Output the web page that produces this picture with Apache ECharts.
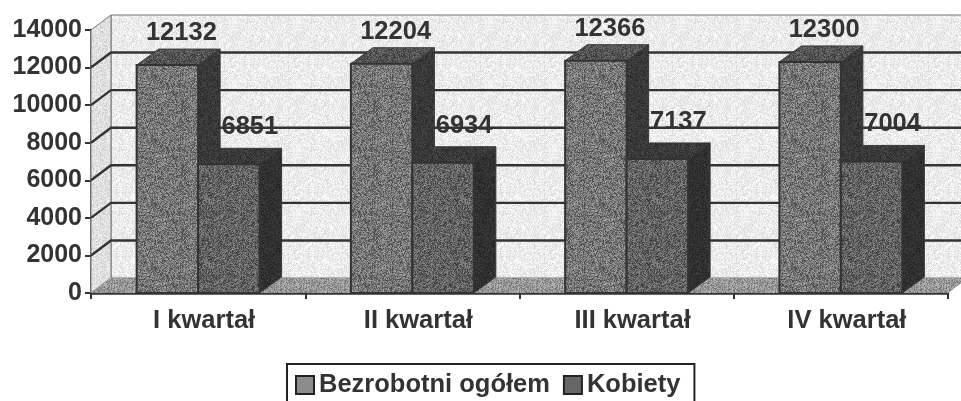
<!DOCTYPE html>
<html><head><meta charset="utf-8">
<style>html,body{margin:0;padding:0;background:#fff}#c{width:961px;height:401px;filter:blur(0.6px)}</style>
<script src="https://cdn.jsdelivr.net/npm/echarts@6/dist/echarts.min.js"></script>
</head><body><div id="c"></div>
<script>
const categories = ['I kwartał','II kwartał','III kwartał','IV kwartał'];
const bezrobotni = [12132,12204,12366,12300];
const kobiety = [6851,6934,7137,7004];
const yTicks = [0,2000,4000,6000,8000,10000,12000,14000];
const seriesNames = ['Bezrobotni ogółem','Kobiety'];

const DX = 20, DY = -15, BDX = 22, BDY = -16, FONT = '"Liberation Sans",Arial,sans-serif', INK = '#333';
function texture(base, amp, seed){
  const s = 64, cv = document.createElement('canvas'); cv.width = cv.height = s;
  const ctx = cv.getContext('2d'), im = ctx.createImageData(s,s);
  let r = seed;
  for(let i=0;i<s*s;i++){
    r = (r*1664525+1013904223)>>>0;
    const v = Math.max(0,Math.min(255, base + ((r>>>16)%(2*amp+1)) - amp));
    im.data[i*4]=im.data[i*4+1]=im.data[i*4+2]=v; im.data[i*4+3]=255;
  }
  ctx.putImageData(im,0,0);
  return {image:cv, repeat:'repeat'};
}
const T = {
  wall: texture(236,19,7), side: texture(224,20,11), floor: texture(150,38,13),
  a: texture(118,48,17), aTop: texture(84,30,19), aSide: texture(56,16,23),
  b: texture(98,42,29), bTop: texture(58,18,31), bSide: texture(48,14,37)
};
const poly = (points, fill) => ({type:'polygon', shape:{points}, style:{fill, stroke:'#3a3a3a', lineWidth:1}});

function renderWall(params, api){
  const cs = params.coordSys, L = cs.x, R = cs.x+cs.width, T0 = cs.y, B = cs.y+cs.height;
  const children = [];
  if(params.dataIndex===0){
    children.push({type:'polygon',shape:{points:[[L+DX,T0+DY],[R+DX,T0+DY],[R+DX,B+DY],[L+DX,B+DY]]},style:{fill:T.wall,stroke:'#777',lineWidth:1}});
    children.push({type:'polygon',shape:{points:[[L,T0],[L+DX,T0+DY],[L+DX,B+DY],[L,B]]},style:{fill:T.side,stroke:'#777',lineWidth:1}});
    children.push({type:'polygon',shape:{points:[[L,B],[R,B],[R+DX,B+DY],[L+DX,B+DY]]},style:{fill:T.floor}});
  }
  const v = api.value(0), y = api.coord([0,v])[1];
  if(v>0 && v<14000){
    children.push({type:'polyline',shape:{points:[[L,y],[L+DX,y+DY],[R+DX,y+DY]]},style:{fill:null,stroke:INK,lineWidth:2.4}});
  }
  return {type:'group',children};
}
function renderBar(seriesIdx, fills){
  return function(params, api){
    const cat = api.value(0), val = api.value(1);
    const c = api.coord([cat,val]), base = api.coord([cat,0]);
    const w = api.size([1,0])[0]*0.287;
    const x0 = c[0] + (seriesIdx===0 ? -w : 0), x1 = x0+w, yt = c[1], yb = base[1];
    return {type:'group',children:[
      poly([[x0,yt],[x1,yt],[x1+BDX,yt+BDY],[x0+BDX,yt+BDY]], fills[1]),
      poly([[x1,yt],[x1+BDX,yt+BDY],[x1+BDX,yb+BDY],[x1,yb]], fills[2]),
      {type:'rect',shape:{x:x0,y:yt,width:w,height:yb-yt},style:{fill:fills[0],stroke:'#333',lineWidth:2}}
    ]};
  };
}
function renderLabel(seriesIdx){
  return function(params, api){
    const cat = api.value(0), val = api.value(1);
    const c = api.coord([cat,val]), w = api.size([1,0])[0]*0.287;
    const x = c[0] + (seriesIdx===0 ? -w/2 + 14 : w/2 + 21);
    const y = c[1] + (seriesIdx===0 ? -32 : -37);
    return {type:'text',style:{text:String(val),x,y,align:'center',verticalAlign:'middle',
      font:'bold 25.5px '+FONT,fill:INK}};
  };
}
const pairs = a => a.map((v,i)=>[i,v]);
const chart = echarts.init(document.getElementById('c'),null,{renderer:'canvas'});
chart.setOption({
  animation:false,
  grid:{left:91,right:13,top:30,bottom:108},
  xAxis:{type:'category',data:categories,boundaryGap:true,
    axisLine:{lineStyle:{color:INK,width:2.5}},axisTick:{show:true,alignWithLabel:false,length:6,lineStyle:{color:INK,width:2}},
    axisLabel:{interval:0,margin:15,color:INK,fontFamily:FONT,fontWeight:'bold',fontSize:25.5,padding:[0,0,0,12]},splitLine:{show:false}},
  yAxis:{type:'value',min:0,max:14000,interval:2000,
    axisLine:{show:true,lineStyle:{color:INK,width:2.5}},axisTick:{show:true,length:6,lineStyle:{color:INK,width:2}},
    axisLabel:{margin:9,color:INK,fontFamily:FONT,fontWeight:'bold',fontSize:25,formatter:v=>String(v)},splitLine:{show:false}},
  legend:{data:seriesNames,left:287,top:364,itemWidth:18,itemHeight:18,itemGap:13,padding:[8,14,8,8],
    borderColor:'#222',borderWidth:2,borderRadius:0,backgroundColor:'#fff',icon:'rect',
    textStyle:{color:INK,fontFamily:FONT,fontWeight:'bold',fontSize:25.5}},
  series:[
    {type:'custom',name:'wall',z:1,silent:true,data:yTicks.map(v=>[v]),renderItem:renderWall,encode:{y:0}},
    {type:'custom',name:'etykiety Kobiety',z:2,silent:true,data:pairs(kobiety),renderItem:renderLabel(1),encode:{x:0,y:1}},
    {type:'custom',name:seriesNames[0],z:3,data:pairs(bezrobotni),renderItem:renderBar(0,[T.a,T.aTop,T.aSide]),
      itemStyle:{color:'#8c8c8c',borderColor:'#222',borderWidth:2.5},encode:{x:0,y:1}},
    {type:'custom',name:seriesNames[1],z:4,data:pairs(kobiety),renderItem:renderBar(1,[T.b,T.bTop,T.bSide]),
      itemStyle:{color:'#666',borderColor:'#222',borderWidth:2.5},encode:{x:0,y:1}},
    {type:'custom',name:'etykiety Bezrobotni',z:5,silent:true,data:pairs(bezrobotni),renderItem:renderLabel(0),encode:{x:0,y:1}}
  ]
});
</script></body></html>
